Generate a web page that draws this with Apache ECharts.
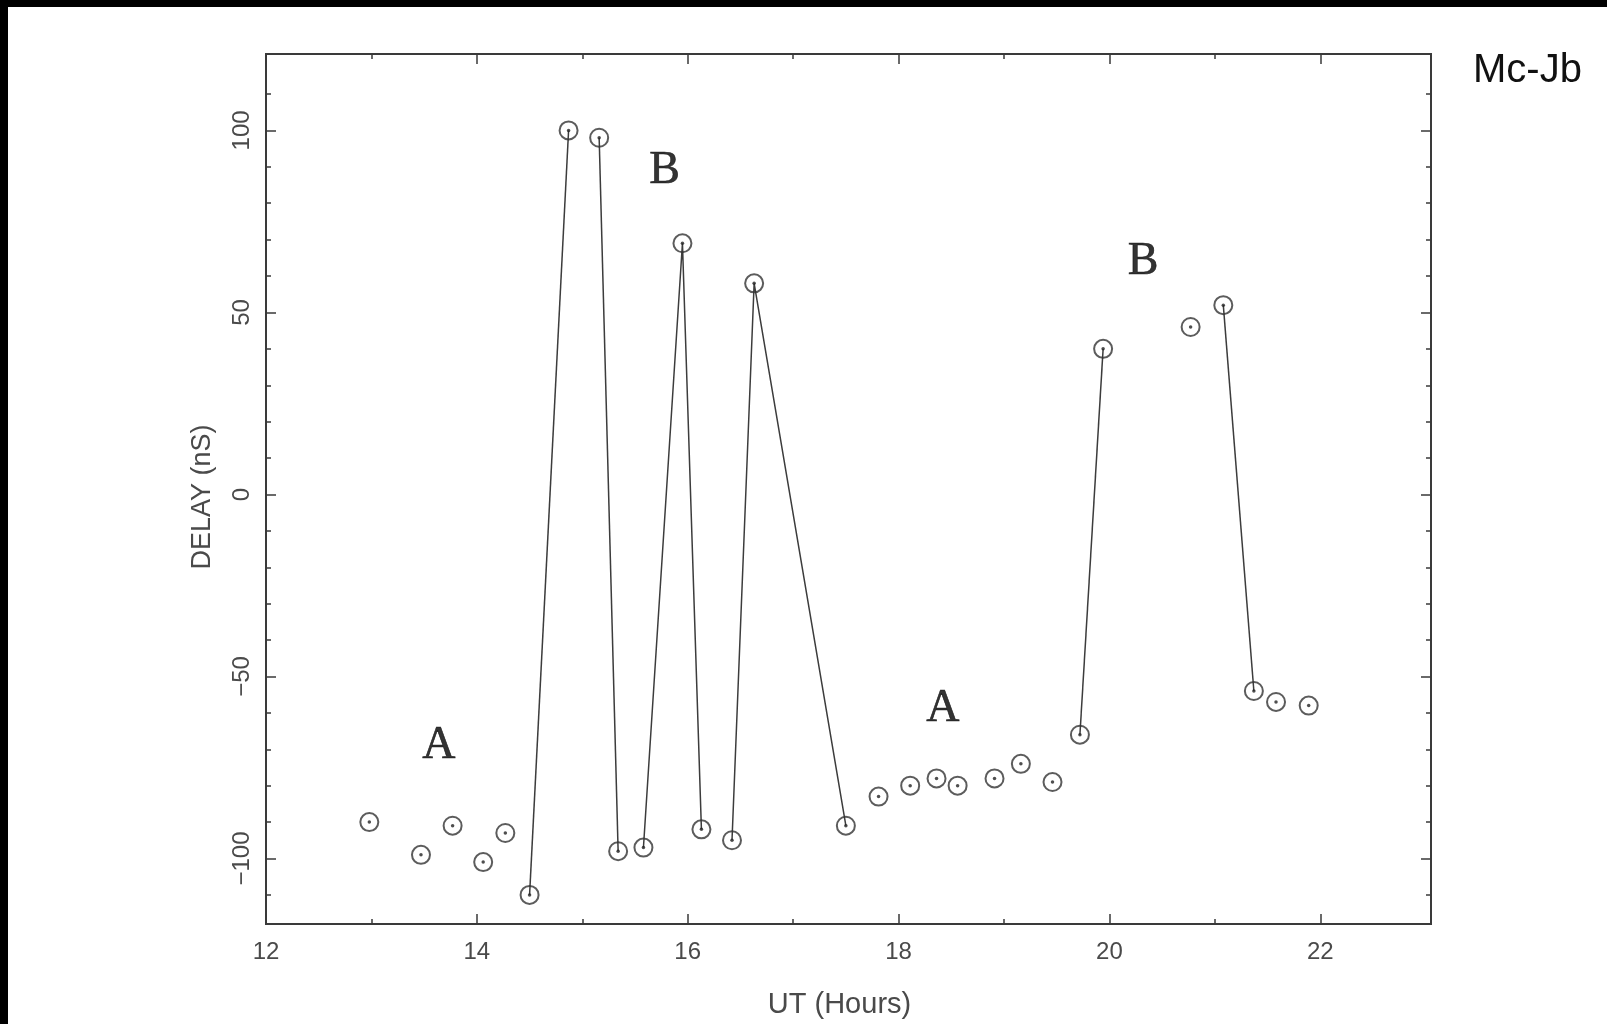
<!DOCTYPE html>
<html>
<head>
<meta charset="utf-8">
<title>Mc-Jb delay</title>
<script src="https://cdn.jsdelivr.net/npm/echarts@6/dist/echarts.min.js"></script>
<style>
html, body { margin: 0; padding: 0; background: #fff; }
#main { width: 1607px; height: 1024px; }
</style>
</head>
<body>
<div id="main"></div>
<script>
// UT hours and delay (nS)
var ut = [12.98, 13.47, 13.77, 14.06, 14.27, 14.50, 14.87, 15.16, 15.34, 15.58,
          15.95, 16.13, 16.42, 16.63, 17.50, 17.81, 18.11, 18.36, 18.56, 18.91,
          19.16, 19.46, 19.72, 19.94, 20.77, 21.08, 21.37, 21.58, 21.89];
var delay = [-90, -99, -91, -101, -93, -110, 100, 98, -98, -97,
             69, -92, -95, 58, -91, -83, -80, -78, -80, -78,
             -74, -79, -66, 40, 46, 52, -54, -57, -58];
// indices of the points joined by lines
var runs = [[5, 6], [7, 8], [9, 10, 11], [12, 13, 14], [22, 23], [25, 26]];

// the A / B annotations
var noteText = ['A', 'B', 'A', 'B'];
var noteUt = [13.64, 15.78, 18.42, 20.32];
var noteDelay = [-69, 89, -59, 64];

var xMajor = [12, 14, 16, 18, 20, 22];
var xMinor = [13, 15, 17, 19, 21];
var yMajor = [-100, -50, 0, 50, 100];
var yMinor = [-110, -90, -80, -70, -60, -40, -30, -20, -10, 10, 20, 30, 40, 60, 70, 80, 90, 110];

var ink = '#3a3a3a';
var labelStyle = {
  fontFamily: 'Liberation Sans',
  fontSize: 24,
  color: '#4a4a4a'
};

function xAx(pos, ticks, len, withLabel) {
  return {
    type: 'value', position: pos, min: 12, max: 23.05,
    axisLine: { show: false, onZero: false },
    splitLine: { show: false },
    axisTick: { show: true, inside: true, length: len, customValues: ticks,
                lineStyle: { color: ink, width: 1.5 } },
    axisLabel: withLabel ? Object.assign({ show: true, customValues: ticks, margin: 16 }, labelStyle)
                         : { show: false }
  };
}

function yAx(pos, ticks, len, withLabel) {
  return {
    type: 'value', position: pos, min: -118, max: 121,
    axisLine: { show: false, onZero: false },
    splitLine: { show: false },
    axisTick: { show: true, inside: true, length: len, customValues: ticks,
                lineStyle: { color: ink, width: 1.5 } },
    axisLabel: withLabel ? Object.assign({
                             show: true, customValues: ticks, rotate: 90, margin: 12,
                             formatter: function (v) { return String(v).replace('-', '\u2212'); }
                           }, labelStyle)
                         : { show: false }
  };
}

var xAxes = [xAx('bottom', xMajor, 10, true), xAx('bottom', xMinor, 5, false),
             xAx('top', xMajor, 10, false), xAx('top', xMinor, 5, false)];
xAxes[0].name = 'UT (Hours)';
xAxes[0].nameLocation = 'middle';
xAxes[0].nameGap = 66;
xAxes[0].nameTextStyle = { fontFamily: 'Liberation Sans', fontSize: 29, color: '#4a4a4a',
                           padding: [0, 18, 0, 0] };

var yAxes = [yAx('left', yMajor, 10, true), yAx('left', yMinor, 5, false),
             yAx('right', yMajor, 10, false), yAx('right', yMinor, 5, false)];
yAxes[0].name = 'DELAY (nS)';
yAxes[0].nameLocation = 'middle';
yAxes[0].nameGap = 50;
yAxes[0].nameTextStyle = { fontFamily: 'Liberation Sans', fontSize: 27, color: '#4a4a4a',
                           padding: [0, 16, 0, 0] };

var points = ut.map(function (u, i) { return [u, delay[i]]; });

var series = [];
runs.forEach(function (run) {
  series.push({
    type: 'line',
    data: run.map(function (i) { return points[i]; }),
    symbol: 'none',
    lineStyle: { color: '#3c3c3c', width: 1.5 },
    z: 2
  });
});
series.push({
  type: 'scatter',
  data: points,
  symbol: 'circle',
  symbolSize: 18,
  itemStyle: { color: 'rgba(0,0,0,0)', borderColor: '#333', borderWidth: 2 },
  z: 3
});
series.push({
  type: 'scatter',
  data: points,
  symbol: 'circle',
  symbolSize: 3.5,
  itemStyle: { color: '#222' },
  z: 4
});
series.push({
  type: 'scatter',
  data: noteText.map(function (t, i) { return { name: t, value: [noteUt[i], noteDelay[i]] }; }),
  symbolSize: 0,
  label: {
    show: true, position: 'inside', formatter: '{b}',
    fontFamily: 'Liberation Serif', fontSize: 46, color: '#000',
    textBorderColor: '#000', textBorderWidth: 0.6
  },
  z: 5
});

var myChart = echarts.init(document.getElementById('main'));
var option = {
  animation: false,
  backgroundColor: '#fff',
  title: {
    text: 'Mc-Jb', left: 1468, top: 46,
    textStyle: { fontFamily: 'Liberation Sans', fontSize: 40, fontWeight: 'normal', color: '#111' }
  },
  grid: {
    left: 266, right: 176, top: 54, bottom: 98,
    show: true, borderColor: ink, borderWidth: 2
  },
  xAxis: xAxes,
  yAxis: yAxes,
  series: series,
  graphic: [
    { type: 'rect', shape: { x: 0, y: 0, width: 8, height: 1024 }, style: { fill: '#000' } },
    { type: 'rect', shape: { x: 0, y: 0, width: 1607, height: 7 }, style: { fill: '#000' } }
  ]
};
myChart.setOption(option);
</script>
</body>
</html>
